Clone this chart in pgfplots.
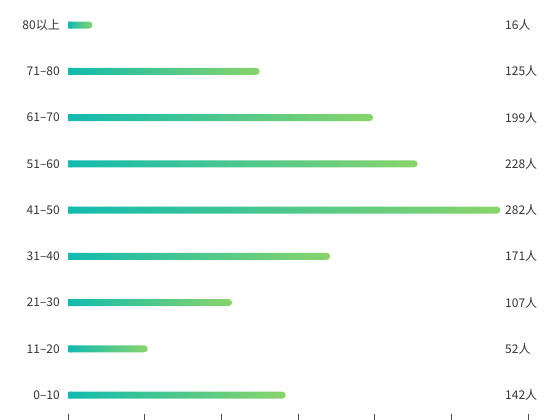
\documentclass[border=0pt]{standalone}
\usepackage{pgfplots}
\pgfplotsset{compat=1.18}
\usepackage{fontspec}
\setmainfont{Noto Sans CJK SC}
\definecolor{txt}{HTML}{333333}
\definecolor{gA}{HTML}{12BBAF}
\definecolor{gB}{HTML}{88D46A}
\tikzset{vl/.style={anchor=west, inner sep=0pt, text=txt, font=\fontsize{12bp}{14bp}\selectfont}}
\pgfplotsset{gbar/.style={draw=none, left color=gA, right color=gB, rounded corners=3.5bp}}
\begin{document}
\begin{tikzpicture}
\begin{axis}[
  at={(68bp,6bp)}, anchor=south west,
  scale only axis, width=460bp, height=413bp,
  xmin=0, xmax=300, ymin=-0.41, ymax=8.52,
  xtick={0,50,...,300}, xticklabels={},
  ytick={0,...,8},
  yticklabels={0–10,11–20,21–30,31–40,41–50,51–60,61–70,71–80,80以上},
  yticklabel style={font=\fontsize{12bp}{14bp}\selectfont, text=txt, inner sep=0pt, xshift=-1bp},
  axis x line*=bottom, axis y line*=left,
  x axis line style={draw=none},
  y axis line style={draw=none},
  tick align=outside,
  major tick length=7bp,
  xtick style={color=black!70, line width=0.6bp},
  ytick style={draw=none},
  xbar, bar width=7bp, bar shift=0pt,
  clip=false,
]
\addplot[gbar] coordinates {(142,0)};
\addplot[gbar] coordinates {(52,1)};
\addplot[gbar] coordinates {(107,2)};
\addplot[gbar] coordinates {(171,3)};
\addplot[gbar] coordinates {(282,4)};
\addplot[gbar] coordinates {(228,5)};
\addplot[gbar] coordinates {(199,6)};
\addplot[gbar] coordinates {(125,7)};
\addplot[gbar] coordinates {(16,8)};
\addplot[draw=none, fill=gA]
  coordinates {(2.5,0) (2.5,1) (2.5,2) (2.5,3) (2.5,4) (2.5,5) (2.5,6) (2.5,7) (2.5,8)};
\node[vl] at (axis cs:285,0) {142人};
\node[vl] at (axis cs:285,1) {52人};
\node[vl] at (axis cs:285,2) {107人};
\node[vl] at (axis cs:285,3) {171人};
\node[vl] at (axis cs:285,4) {282人};
\node[vl] at (axis cs:285,5) {228人};
\node[vl] at (axis cs:285,6) {199人};
\node[vl] at (axis cs:285,7) {125人};
\node[vl] at (axis cs:285,8) {16人};
\end{axis}
\pgfresetboundingbox
\path[use as bounding box] (0,0) rectangle (550bp,420bp);
\end{tikzpicture}
\end{document}
